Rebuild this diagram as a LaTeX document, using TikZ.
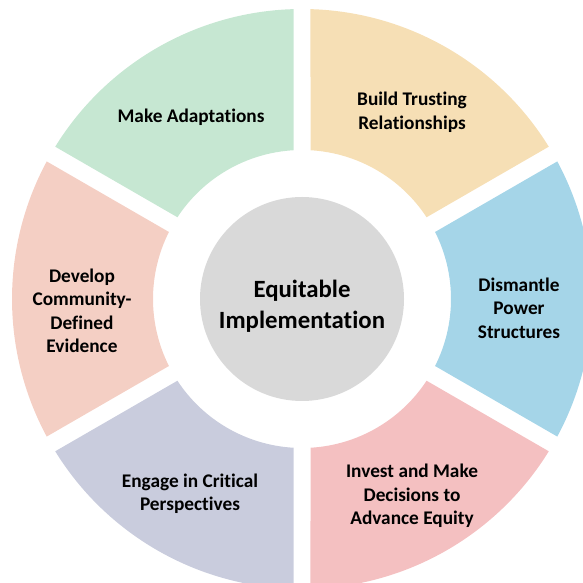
\documentclass[tikz,border=0pt]{standalone}
\usepackage{fontspec}
\setmainfont{Carlito}[RawFeature={-liga}]
\usetikzlibrary{calc}
\definecolor{cgreen}{HTML}{C6E7D2}
\definecolor{cyellow}{HTML}{F6DFB5}
\definecolor{cblue}{HTML}{A5D5E8}
\definecolor{cpink}{HTML}{F4C0C1}
\definecolor{clav}{HTML}{C9CCDD}
\definecolor{csalmon}{HTML}{F4CFC4}
\definecolor{cgray}{HTML}{D9D9D9}
\newcommand{\ringseg}[3]{%
  \pgfmathsetmacro{\oA}{#1+asin(8.5/290)}%
  \pgfmathsetmacro{\oB}{#2-asin(8.5/290)}%
  \pgfmathsetmacro{\iA}{#1+asin(8.5/149)}%
  \pgfmathsetmacro{\iB}{#2-asin(8.5/149)}%
  \fill[#3] ($(C)+(\oA:290)$) arc[start angle=\oA, end angle=\oB, radius=290]
    -- ($(C)+(\iB:149)$) arc[start angle=\iB, end angle=\iA, radius=149] -- cycle;}
\tikzset{
  lbl/.style={align=center, inner sep=0pt, font=\bfseries\fontsize{19.3}{23.5}\selectfont, text=black},
  ctr/.style={align=center, inner sep=0pt, font=\bfseries\fontsize{24.8}{31}\selectfont, text=black}
}
\begin{document}
\begin{tikzpicture}[x=1pt,y=1pt]
\useasboundingbox (0,0) rectangle (582,583);
\coordinate (C) at (302,284);
\ringseg{90}{150}{cgreen}
\ringseg{30}{90}{cyellow}
\ringseg{-30}{30}{cblue}
\ringseg{-90}{-30}{cpink}
\ringseg{210}{270}{clav}
\ringseg{150}{210}{csalmon}
\fill[cgray] (C) circle[radius=102];
\node[ctr] (center) at (302,276.5) {Equitable\\Implementation};
\node[lbl] (adapt) at (191,466) {Make Adaptations};
\node[lbl] (trust) at (412,470.5) {Build Trusting\\Relationships};
\node[lbl] (power) at (519,275) {Dismantle\\Power\\Structures};
\node[lbl] (invest) at (412,87) {Invest and Make\\Decisions to\\Advance Equity};
\node[lbl] (engage) at (190,89.5) {Engage in Critical\\Perspectives};
\node[lbl] (develop) at (82,272) {Develop\\Community-\\Defined\\Evidence};
\end{tikzpicture}
\end{document}
